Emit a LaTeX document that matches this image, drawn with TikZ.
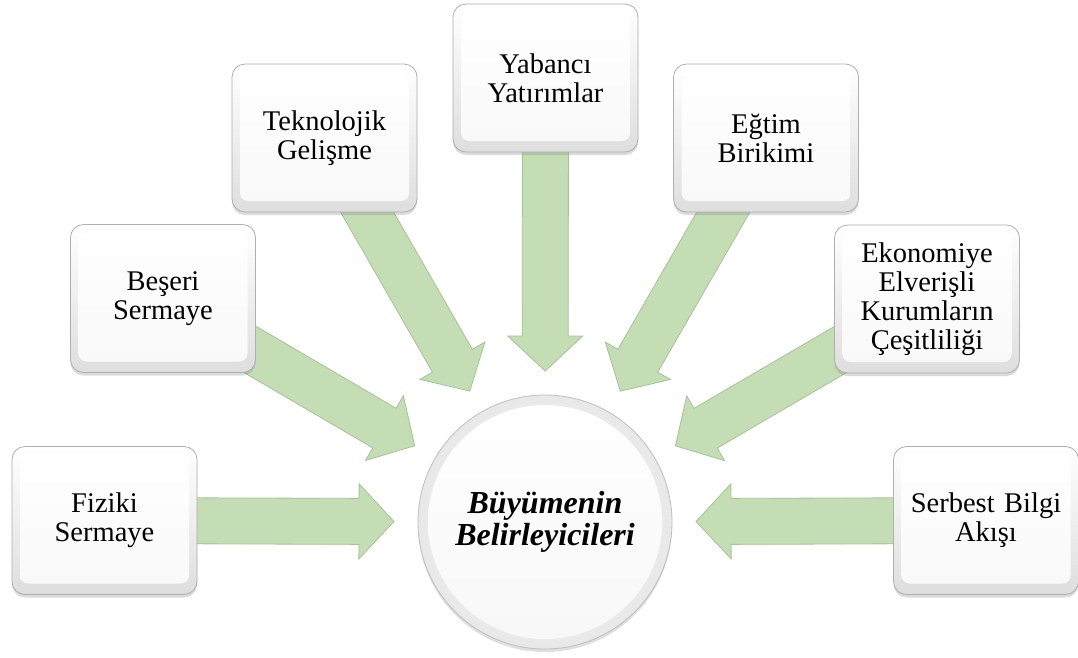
\documentclass[tikz,border=0pt]{standalone}
\usepackage{fontspec}
\setmainfont{Liberation Serif}
\usetikzlibrary{calc,shadows,backgrounds}
\definecolor{arrowfill}{RGB}{196,221,181}
\definecolor{arrowedge}{RGB}{165,196,150}
\definecolor{boxedge}{RGB}{175,175,175}
\begin{document}
\begin{tikzpicture}[x=1pt,y=-1pt,
  factor/.style={draw=boxedge, line width=0.8pt, rounded corners=13pt,
    minimum width=185pt, minimum height=148pt, text width=175pt,
    align=center, inner sep=0pt,
    font=\fontsize{28.5}{29}\selectfont,
    top color=white, bottom color=gray!26,
    drop shadow={opacity=0.28, shadow xshift=0pt, shadow yshift=-3pt},
    path picture={\shade[top color=white, bottom color=gray!5, rounded corners=8pt]
      ([shift={(8pt,-7pt)}]path picture bounding box.north west) rectangle
      ([shift={(-8pt,11pt)}]path picture bounding box.south east);}},
  hubnode/.style={circle, draw=gray!50, line width=0.8pt, minimum size=254pt,
    inner sep=0pt, align=center,
    font=\fontsize{32}{32}\bfseries\itshape\selectfont,
    inner color=white, outer color=gray!18,
    drop shadow={opacity=0.25, shadow xshift=0pt, shadow yshift=-3pt},
    path picture={\shade[top color=white, bottom color=gray!6]
      (path picture bounding box.center) circle (117pt);}},
  flowarrow/.style={fill=arrowfill, draw=arrowedge, line width=0.8pt, line join=miter}
]
\useasboundingbox (0,0) rectangle (1078,657);

% central circle
\node[hubnode] (hub) at (545,522) {Büyümenin\\Belirleyicileri};

% determinants
\node[factor] (fiz) at (104.5,520.5) {Fiziki\\Sermaye};
\node[factor] (bes) at (163,298.5) {Beşeri\\Sermaye};
\node[factor] (tek) at (324.5,138) {Teknolojik\\Gelişme};
\node[factor] (yab) at (545.5,78) {Yabancı\\Yatırımlar};
\node[factor] (egt) at (766,138) {Eğtim\\Birikimi};
\node[factor] (eko) at (927,299) {Ekonomiye\\Elverişli\\Kurumların\\Çeşitliliği};
\node[factor] (ser) at (986,520.5) {Serbest Bilgi\\Akışı};

% block arrows pointing to the centre, drawn behind the boxes
\begin{pgfonlayer}{background}
\fill[white] (0,0) rectangle (1078,657);
\foreach \b in {fiz,bes,tek,yab,egt,eko,ser}{
  \coordinate (tip) at ($(hub.center)!151pt!(\b.center)$);
  \coordinate (neck) at ($(tip)!35pt!(\b.center)$);
  \draw[flowarrow]
    ($(\b.center)!23pt!90:(tip)$) --
    ($(neck)!23pt!90:(tip)$) --
    ($(neck)!37.5pt!90:(tip)$) --
    (tip) --
    ($(neck)!37.5pt!-90:(tip)$) --
    ($(neck)!23pt!-90:(tip)$) --
    ($(\b.center)!23pt!-90:(tip)$) -- cycle;
}
\end{pgfonlayer}
\end{tikzpicture}
\end{document}
